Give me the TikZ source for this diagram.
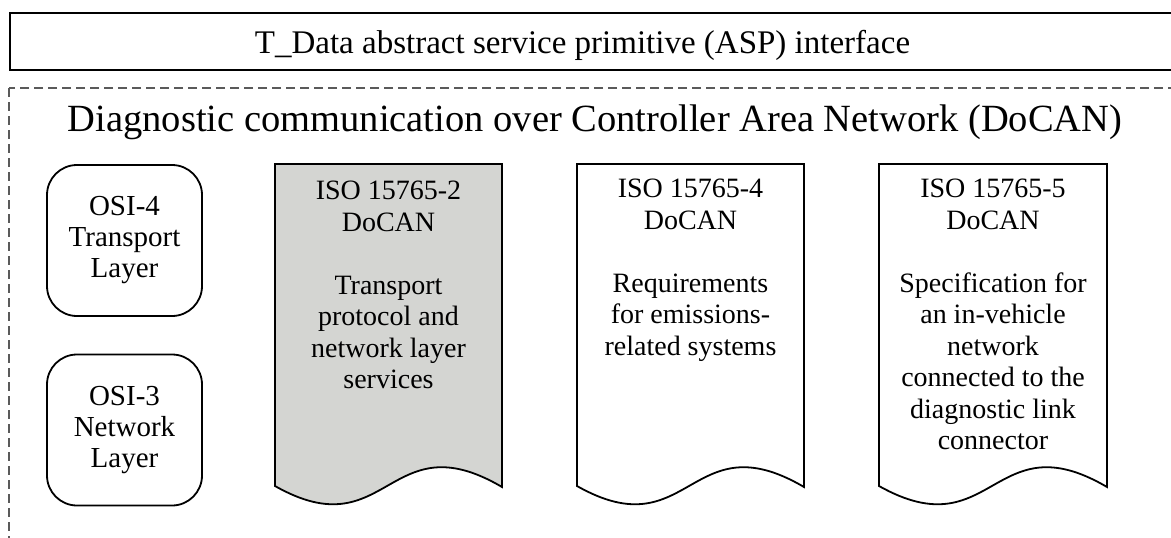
\documentclass[tikz,border=0pt]{standalone}
\usepackage{fontspec}
\setmainfont{Liberation Serif}
\definecolor{docgray}{RGB}{212,213,210}
\definecolor{dashgray}{RGB}{90,90,90}
\begin{document}
\begin{tikzpicture}[x=1pt,y=-1pt,
  lbl/.style={font=\fontsize{28}{31.5}\selectfont, align=center, inner sep=0pt, anchor=north},
  osibox/.style={draw, line width=1.8pt, rounded corners=30pt, minimum width=155pt, minimum height=151pt,
    align=center, inner sep=0pt, font=\fontsize{29}{31}\selectfont},
  docline/.style={line width=1.8pt, line join=miter},
  frame/.style={line width=2.2pt},
  dashframe/.style={line width=1.3pt, draw=dashgray, dash pattern=on 9pt off 5pt}]
\useasboundingbox (0,0) rectangle (1171,538);
\clip (0,0) rectangle (1171,538);
\fill[white] (0,0) rectangle (1171,538);
% top interface box
\draw[frame] (10,13) rectangle (1200,70);
\node[font=\fontsize{33}{36}\selectfont, anchor=base, inner sep=0pt] (asp) at (582.5,53)
  {T\_Data abstract service primitive (ASP) interface};
% dashed DoCAN frame
\draw[dashframe] (9,88) rectangle (1200,580);
\node[font=\fontsize{38.5}{42}\selectfont, anchor=base, inner sep=0pt] (title) at (595,131)
  {Diagnostic communication over Controller Area Network (DoCAN)};
% OSI boxes
\node[osibox] (osi4) at (124.5,240.5) {OSI-4\\Transport\\Layer};
\node[osibox] (osi3) at (124.5,430) {OSI-3\\Network\\Layer};
% document shapes
\draw[docline, fill=docgray] (275,164) -- (502,164) -- (502,487)
  .. controls (388,420) and (388,550) .. (275,486) -- cycle;
\draw[docline] (577,164) -- (804,164) -- (804,487)
  .. controls (690,420) and (690,550) .. (577,486) -- cycle;
\draw[docline] (879,164) -- (1107,164) -- (1107,487)
  .. controls (993,420) and (993,550) .. (879,486) -- cycle;
\node[lbl] (doc2txt) at (388.5,181)
  {ISO 15765-2\\DoCAN\\[31.5pt]Transport\\protocol and\\network layer\\services};
\node[lbl] (doc4txt) at (690.5,179)
  {ISO 15765-4\\DoCAN\\[31.5pt]Requirements\\for emissions-\\related systems};
\node[lbl] (doc5txt) at (993,179)
  {ISO 15765-5\\DoCAN\\[31.5pt]Specification for\\an in-vehicle\\network\\connected to the\\diagnostic link\\connector};
\end{tikzpicture}
\end{document}
